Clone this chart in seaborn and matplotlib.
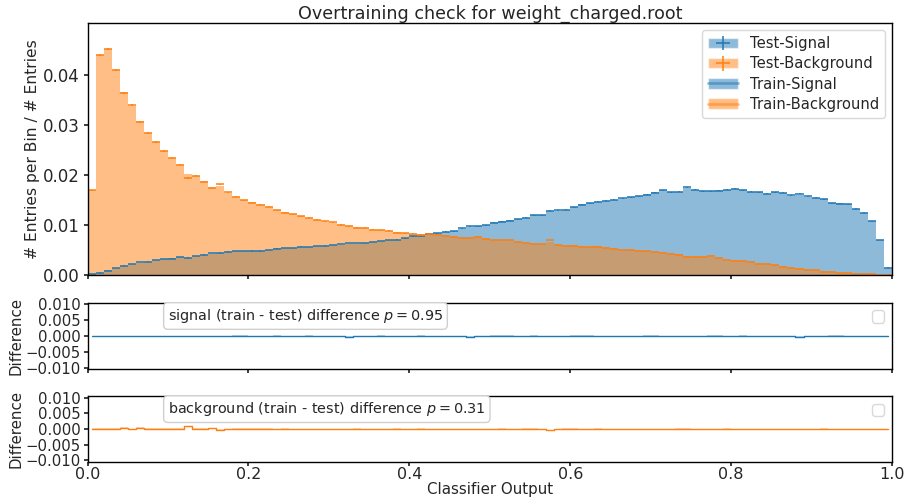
import numpy as np
import pandas as pd
import matplotlib
matplotlib.use("Agg")
import matplotlib.pyplot as plt
from matplotlib.patches import Patch
from matplotlib.lines import Line2D
import seaborn as sns

# Normalised classifier-output histograms, 100 bins on [0, 1]
n_bins = 100
bin_range = (0.0, 1.0)

train_signal = [
    0.0002, 0.0005, 0.0010, 0.0015, 0.0019, 0.0022, 0.0025, 0.0027, 0.0030, 0.0033,
    0.0034, 0.0036, 0.0035, 0.0038, 0.0041, 0.0043, 0.0045, 0.0047, 0.0049, 0.0049,
    0.0049, 0.0049, 0.0050, 0.0054, 0.0054, 0.0054, 0.0057, 0.0057, 0.0058, 0.0059,
    0.0060, 0.0061, 0.0062, 0.0063, 0.0064, 0.0066, 0.0069, 0.0070, 0.0071, 0.0074,
    0.0078, 0.0079, 0.0082, 0.0084, 0.0087, 0.0088, 0.0093, 0.0096, 0.0098, 0.0100,
    0.0106, 0.0108, 0.0110, 0.0112, 0.0115, 0.0121, 0.0120, 0.0129, 0.0129, 0.0131,
    0.0137, 0.0142, 0.0145, 0.0147, 0.0149, 0.0151, 0.0153, 0.0156, 0.0158, 0.0162,
    0.0166, 0.0170, 0.0166, 0.0167, 0.0175, 0.0171, 0.0168, 0.0169, 0.0170, 0.0171,
    0.0173, 0.0171, 0.0167, 0.0166, 0.0163, 0.0166, 0.0164, 0.0159, 0.0161, 0.0157,
    0.0155, 0.0152, 0.0145, 0.0144, 0.0142, 0.0133, 0.0125, 0.0108, 0.0070, 0.0015,
]

train_background = [
    0.0170, 0.0441, 0.0453, 0.0410, 0.0367, 0.0339, 0.0309, 0.0285, 0.0267, 0.0248,
    0.0235, 0.0221, 0.0203, 0.0199, 0.0188, 0.0177, 0.0179, 0.0164, 0.0157, 0.0150,
    0.0146, 0.0141, 0.0137, 0.0130, 0.0126, 0.0122, 0.0118, 0.0114, 0.0111, 0.0107,
    0.0105, 0.0101, 0.0098, 0.0096, 0.0095, 0.0091, 0.0090, 0.0089, 0.0086, 0.0084,
    0.0083, 0.0082, 0.0082, 0.0081, 0.0079, 0.0077, 0.0074, 0.0075, 0.0077, 0.0073,
    0.0071, 0.0071, 0.0070, 0.0067, 0.0065, 0.0063, 0.0062, 0.0067, 0.0061, 0.0059,
    0.0060, 0.0057, 0.0056, 0.0058, 0.0055, 0.0053, 0.0050, 0.0050, 0.0049, 0.0048,
    0.0046, 0.0044, 0.0043, 0.0042, 0.0038, 0.0037, 0.0037, 0.0036, 0.0034, 0.0031,
    0.0029, 0.0029, 0.0026, 0.0023, 0.0022, 0.0020, 0.0017, 0.0015, 0.0013, 0.0011,
    0.0010, 0.0008, 0.0007, 0.0005, 0.0004, 0.0003, 0.0002, 0.0001, 0.00005, 0.0,
]

# train - test differences per bin
diff_signal = [
    0.0000, 0.0000, 0.0001, 0.0001, 0.0000, 0.0000, -0.0001, 0.0000, 0.0000, 0.0001,
    0.0001, 0.0000, 0.0000, 0.0000, 0.0000, -0.0001, 0.0000, 0.0000, 0.0001, 0.0001,
    0.0000, 0.0000, 0.0000, 0.0001, 0.0000, 0.0000, 0.0000, 0.0001, 0.0000, 0.0000,
    0.0000, -0.0001, -0.0002, -0.0001, 0.0000, 0.0000, 0.0001, 0.0000, 0.0000, 0.0000,
    0.0000, 0.0001, 0.0000, 0.0000, 0.0000, 0.0000, -0.0001, -0.0002, 0.0000, 0.0000,
    0.0001, 0.0001, 0.0001, 0.0000, 0.0000, 0.0001, 0.0000, 0.0000, -0.0001, 0.0000,
    0.0001, 0.0001, 0.0001, 0.0000, 0.0000, 0.0000, -0.0001, 0.0000, 0.0000, 0.0001,
    0.0001, 0.0000, 0.0000, 0.0000, -0.0001, 0.0000, 0.0000, 0.0001, 0.0001, 0.0000,
    0.0000, 0.0001, 0.0000, 0.0000, 0.0000, 0.0000, -0.0001, -0.0001, -0.0002, -0.0001,
    0.0000, 0.0000, 0.0001, 0.0001, 0.0000, 0.0000, 0.0000, 0.0000, 0.0000, 0.0000,
]

diff_background = [
    0.0000, 0.0000, 0.0000, 0.0000, 0.0003, -0.0002, 0.0003, 0.0000, 0.0000, 0.0000,
    0.0000, 0.0000, 0.0009, 0.0000, 0.0001, 0.0003, -0.0003, -0.0002, 0.0000, 0.0000,
    0.0001, 0.0000, 0.0000, 0.0000, 0.0001, 0.0000, 0.0000, -0.0001, 0.0000, -0.0001,
    -0.0001, 0.0000, 0.0000, 0.0001, 0.0000, 0.0000, 0.0000, 0.0000, 0.0001, 0.0000,
    0.0000, 0.0001, 0.0000, 0.0000, 0.0000, 0.0000, -0.0001, 0.0000, 0.0000, 0.0000,
    0.0000, 0.0001, 0.0000, 0.0000, 0.0001, 0.0001, 0.0000, -0.0003, 0.0000, 0.0001,
    0.0001, 0.0000, 0.0000, 0.0001, 0.0000, 0.0000, 0.0000, -0.0001, 0.0000, 0.0000,
    0.0000, 0.0000, 0.0000, 0.0001, 0.0001, 0.0000, 0.0000, -0.0002, 0.0000, 0.0001,
    0.0000, 0.0000, 0.0000, 0.0000, -0.0001, 0.0000, 0.0000, 0.0000, 0.0000, 0.0000,
    0.0000, 0.0001, 0.0000, 0.0000, 0.0000, 0.0000, 0.0000, 0.0000, 0.0000, 0.0000,
]

p_signal = 0.95
p_background = 0.31
n_test_events = 1000000

SIG = "#1f77b4"
BKG = "#ff7f0e"

sns.set_theme(style="ticks")
plt.rcParams["font.family"] = ["DejaVu Sans"]
plt.rcParams["axes.edgecolor"] = "black"
plt.rcParams["axes.linewidth"] = 1.0

bin_edges = np.linspace(bin_range[0], bin_range[1], n_bins + 1)
centers = 0.5 * (bin_edges[:-1] + bin_edges[1:])
half_w = 0.5 * (bin_edges[1] - bin_edges[0])
sig_train = np.array(train_signal)
bkg_train = np.array(train_background)
sig_test = sig_train - np.array(diff_signal)
bkg_test = bkg_train - np.array(diff_background)
sig_err = np.sqrt(np.clip(sig_test, 0, None) / n_test_events)
bkg_err = np.sqrt(np.clip(bkg_test, 0, None) / n_test_events)

hist_df = pd.DataFrame({"score": centers, "sig": sig_train, "bkg": bkg_train})

fig = plt.figure(figsize=(9.08, 4.99), dpi=100)
ax = fig.add_axes([0.0964, 0.4489, 0.886, 0.505])
ax_s = fig.add_axes([0.0964, 0.2599, 0.886, 0.1335])
ax_b = fig.add_axes([0.0964, 0.0747, 0.886, 0.1317])

# Training samples as filled step histograms
sns.histplot(data=hist_df, x="score", weights="sig", bins=n_bins, binrange=bin_range,
             element="step", fill=True, color=SIG, alpha=0.5, linewidth=0, ax=ax)
sns.histplot(data=hist_df, x="score", weights="bkg", bins=n_bins, binrange=bin_range,
             element="step", fill=True, color=BKG, alpha=0.5, linewidth=0, ax=ax)

# Test samples as error bars
eb_s = ax.errorbar(centers, sig_test, xerr=half_w, yerr=sig_err, fmt="none",
                   ecolor=SIG, elinewidth=1.1)
eb_b = ax.errorbar(centers, bkg_test, xerr=half_w, yerr=bkg_err, fmt="none",
                   ecolor=BKG, elinewidth=1.1)

ax.set_xlim(0, 1)
ax.set_ylim(0, 0.0505)
ax.set_yticks([0.0, 0.01, 0.02, 0.03, 0.04])
ax.set_xticks([0.0, 0.2, 0.4, 0.6, 0.8, 1.0])
ax.tick_params(labelbottom=False, labelsize=12, length=3, pad=2.5)
ax.set_ylabel("# Entries per Bin / # Entries", fontsize=11.2, labelpad=2)
ax.set_xlabel("")
ax.set_title("Overtraining check for weight_charged.root", fontsize=12.6, pad=3)

handles = [
    (Patch(facecolor=SIG, alpha=0.5), eb_s),
    (Patch(facecolor=BKG, alpha=0.5), eb_b),
    (Patch(facecolor=SIG, alpha=0.5), Line2D([], [], color=SIG, alpha=0.5, lw=2)),
    (Patch(facecolor=BKG, alpha=0.5), Line2D([], [], color=BKG, alpha=0.5, lw=2)),
]
labels = ["Test-Signal", "Test-Background", "Train-Signal", "Train-Background"]
ax.legend(handles, labels, loc="upper right", fontsize=10.6, framealpha=0.8,
          edgecolor="#d0d0d0", handlelength=2.0, labelspacing=0.35)

# Difference panels
for a, diff, err, col, lab in [
    (ax_s, np.array(diff_signal), sig_err, SIG,
     f"signal (train - test) difference $p = {p_signal:.2f}$"),
    (ax_b, np.array(diff_background), bkg_err, BKG,
     f"background (train - test) difference $p = {p_background:.2f}$"),
]:
    a.fill_between(centers, diff - err, diff + err, step="mid", color=col,
                   alpha=0.3, linewidth=0)
    sns.lineplot(x=centers, y=diff, color=col, drawstyle="steps-mid",
                 linewidth=1.0, ax=a)
    a.set_xlim(0, 1)
    a.set_ylim(-0.0105, 0.0105)
    a.set_yticks([-0.010, -0.005, 0.0, 0.005, 0.010])
    a.set_xticks([0.0, 0.2, 0.4, 0.6, 0.8, 1.0])
    a.tick_params(labelsize=10.7, length=3, pad=2)
    a.set_ylabel("Difference", fontsize=10.8, labelpad=1)
    a.text(0.1, 0.8, lab, transform=a.transAxes, fontsize=10.4, va="center",
           ha="left",
           bbox=dict(boxstyle="round,pad=0.3", fc="white", ec="#d0d0d0"))
    a.legend(handles=[], loc="upper right", edgecolor="#d0d0d0")

ax_s.tick_params(labelbottom=False)
ax_b.set_xticklabels(["0.0", "0.2", "0.4", "0.6", "0.8", "1.0"], fontsize=11.5)
ax_b.tick_params(axis="x", pad=1)
ax_b.set_xlabel("Classifier Output", fontsize=10.8, labelpad=0)

fig.savefig("out.png", dpi=100)
